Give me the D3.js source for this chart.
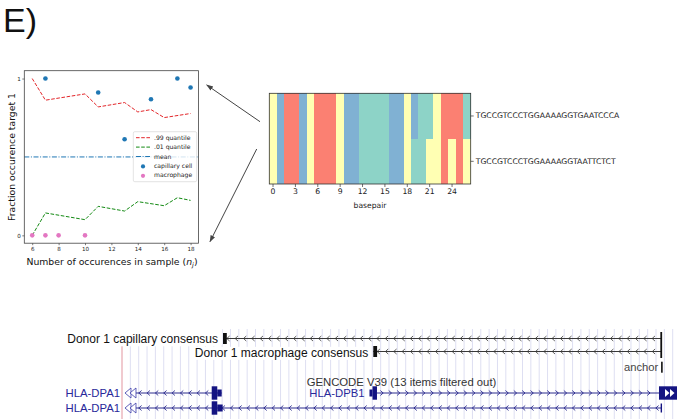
<!DOCTYPE html>
<html><head><meta charset="utf-8">
<script src="https://cdn.jsdelivr.net/npm/d3@7"></script>
<style>body{margin:0;background:#fff}svg{display:block}</style>
</head><body>
<svg id="c" width="680" height="419"></svg>
<script>
// ---------- DATA: scatter panel ----------
const scatterXTicks = [6, 8, 10, 12, 14, 16, 18];
const scatterYTicks = [0, 1];
const q99X = [6, 7, 10, 11, 13, 14, 15, 16, 18];
const q99Y = [1.0, 0.862, 0.902, 0.819, 0.847, 0.787, 0.802, 0.751, 0.777];
const q01X = [6, 7, 10, 11, 13, 14, 16, 17, 18];
const q01Y = [0.0, 0.143, 0.100, 0.185, 0.155, 0.215, 0.189, 0.240, 0.223];
const meanValue = 0.5;
const capillaryX = [7, 11, 13, 15, 17, 18];
const capillaryY = [1.0, 0.911, 0.613, 0.868, 1.0, 0.943];
const macrophageX = [6, 7, 8, 10];
const macrophageY = [0, 0, 0, 0];
const legendLabels = [".99 quantile", ".01 quantile", "mean", "capillary cell", "macrophage"];

// ---------- DATA: heatmap panel ----------
const sequences = ["TGCCGTCCCTGGAAAAGGTGAATCCCA", "TGCCGTCCCTGGAAAAGGTAATTCTCT"];
const baseLetters = ["A", "T", "C", "G"];
const heatXTicks = [0, 3, 6, 9, 12, 15, 18, 21, 24];

// ---------- DATA: genome browser panel (relative window units 0..1000) ----------
const consensusNames = ["Donor 1 capillary consensus", "Donor 1 macrophage consensus"];
const consensusStart = [183.4, 456.3];
const consensusEnd = [979, 979];
const anchorPos = 980;
const geneNames = ["HLA-DPA1", "HLA-DPB1", "HLA-DPA1"];
const geneStart = [5.4, 449.4, 5.4];
const geneEnd = [181.0, 1007.8, 979];
const geneStrand = ["-", "+", "-"];
const geneRow = [0, 0, 1];
const exonGene = [0, 0, 2, 2, 1, 1, 1];
const exonStart = [162.9, 173.0, 162.9, 173.0, 449.4, 454.9, 975.1];
const exonEnd = [173.0, 181.0, 173.0, 182.8, 454.9, 463.0, 1007.8];
const exonThick = [true, false, true, false, false, true, true];
const gencodeLabel = "GENCODE V39 (13 items filtered out)";

// ---------- DRAW ----------
const svg = d3.select("#c");
svg.append("rect").attr("width", 680).attr("height", 419).attr("fill", "#fff");

svg.append("text").attr("x", 3).attr("y", 31.5)
  .attr("font-family", "Liberation Sans, Arial, sans-serif").attr("font-size", 34)
  .attr("fill", "#111").text("E)");

// ===== Scatter panel =====
const SF = "DejaVu Sans, sans-serif";
const ax = {l: 24.3, r: 198.5, t: 70.7, b: 243.2};
const xs = d3.scaleLinear().domain([5.4, 18.6]).range([ax.l, ax.r]);
const ys = d3.scaleLinear().domain([-0.05, 1.05]).range([ax.b, ax.t]);
const gS = svg.append("g");

const line = d3.line().x(d => xs(d[0])).y(d => ys(d[1]));
gS.append("path").datum(q99X.map((x, i) => [x, q99Y[i]])).attr("d", line)
  .attr("fill", "none").attr("stroke", "#e3262a").attr("stroke-width", 1).attr("stroke-dasharray", "3.6,1.6");
gS.append("path").datum(q01X.map((x, i) => [x, q01Y[i]])).attr("d", line)
  .attr("fill", "none").attr("stroke", "#138a13").attr("stroke-width", 1).attr("stroke-dasharray", "3.6,1.6");
gS.append("line").attr("x1", ax.l).attr("x2", ax.r).attr("y1", ys(meanValue)).attr("y2", ys(meanValue))
  .attr("stroke", "#1f77b4").attr("stroke-width", 1).attr("stroke-dasharray", "5,1.6,1,1.6");

gS.selectAll("circle.cap").data(capillaryX.map((x, i) => [x, capillaryY[i]])).join("circle")
  .attr("class", "cap").attr("cx", d => xs(d[0])).attr("cy", d => ys(d[1])).attr("r", 2.3).attr("fill", "#1f77b4");
gS.selectAll("circle.mac").data(macrophageX.map((x, i) => [x, macrophageY[i]])).join("circle")
  .attr("class", "mac").attr("cx", d => xs(d[0])).attr("cy", d => ys(d[1])).attr("r", 2.3).attr("fill", "#e377c2");

gS.append("rect").attr("x", ax.l).attr("y", ax.t).attr("width", ax.r - ax.l).attr("height", ax.b - ax.t)
  .attr("fill", "none").attr("stroke", "#444").attr("stroke-width", 0.8);

const xAx = gS.append("g").attr("transform", `translate(0,${ax.b})`)
  .call(d3.axisBottom(xs).tickValues(scatterXTicks).tickSize(2).tickPadding(1.5));
const yAx = gS.append("g").attr("transform", `translate(${ax.l},0)`)
  .call(d3.axisLeft(ys).tickValues(scatterYTicks).tickFormat(d3.format("d")).tickSize(2).tickPadding(1.5));
[xAx, yAx].forEach(a => {
  a.select(".domain").remove();
  a.selectAll("line").attr("stroke", "#444").attr("stroke-width", 0.7);
  a.selectAll("text").attr("font-family", SF).attr("font-size", 5.6).attr("fill", "#222");
});

const xl = gS.append("text").attr("x", 112).attr("y", 264.5).attr("text-anchor", "middle")
  .attr("font-family", SF).attr("font-size", 9.3).attr("fill", "#111");
xl.append("tspan").text("Number of occurences in sample (");
xl.append("tspan").attr("font-style", "italic").text("n");
xl.append("tspan").attr("font-style", "italic").attr("font-size", 6.5).attr("dy", 2).text("j");
xl.append("tspan").attr("dy", -2).text(")");

gS.append("text").attr("transform", "translate(14.5,157) rotate(-90)").attr("text-anchor", "middle")
  .attr("font-family", SF).attr("font-size", 9.3).attr("fill", "#111").text("Fraction occurence target 1");

// legend
const lg = gS.append("g");
lg.append("rect").attr("x", 133.3).attr("y", 131.7).attr("width", 63.4).attr("height", 50).attr("rx", 1.5)
  .attr("fill", "#fff").attr("fill-opacity", 0.8).attr("stroke", "#d0d0d0").attr("stroke-width", 0.6);
const lgY = d3.scaleLinear().domain([0, 4]).range([137.7, 175.3]);
const lgStyles = [
  {type: "line", color: "#e3262a", dash: "3.6,1.6"},
  {type: "line", color: "#138a13", dash: "3.6,1.6"},
  {type: "line", color: "#1f77b4", dash: "5,1.6,1,1.6"},
  {type: "dot", color: "#1f77b4"},
  {type: "dot", color: "#e377c2"}];
legendLabels.forEach((lab, i) => {
  const s = lgStyles[i], y = lgY(i);
  if (s.type === "line") {
    lg.append("line").attr("x1", 136).attr("x2", 150).attr("y1", y).attr("y2", y)
      .attr("stroke", s.color).attr("stroke-width", 1).attr("stroke-dasharray", s.dash);
  } else {
    lg.append("circle").attr("cx", 143).attr("cy", y + 0.5).attr("r", 2.1).attr("fill", s.color);
  }
  lg.append("text").attr("x", 154).attr("y", y + 2.1).attr("font-family", SF).attr("font-size", 6.1)
    .attr("fill", "#222").text(lab);
});

// ===== Heatmap panel =====
const hx = d3.scaleBand().domain(d3.range(sequences[0].length)).range([269.3, 470.7]);
const hy = d3.scaleBand().domain(d3.range(sequences.length)).range([93.3, 184]);
const baseColor = d3.scaleOrdinal().domain(baseLetters).range(["#8dd3c7", "#ffffb3", "#fb8072", "#80b1d3"]);
const gH = svg.append("g");
sequences.forEach((seq, r) => {
  gH.selectAll(null).data(seq.split("")).join("rect")
    .attr("x", (d, i) => hx(i)).attr("y", hy(r))
    .attr("width", hx.bandwidth() + 0.4).attr("height", hy.bandwidth() + 0.4)
    .attr("fill", d => baseColor(d)).attr("shape-rendering", "crispEdges");
});
gH.append("rect").attr("x", 269.3).attr("y", 93.3).attr("width", 470.7 - 269.3).attr("height", 184 - 93.3)
  .attr("fill", "none").attr("stroke", "#333").attr("stroke-width", 0.8);
const hxAx = gH.append("g").attr("transform", "translate(0,184)")
  .call(d3.axisBottom(hx).tickValues(heatXTicks).tickSize(3).tickPadding(1.5));
const hyAx = gH.append("g").attr("transform", "translate(470.7,0)")
  .call(d3.axisRight(hy).tickFormat(i => sequences[i]).tickSize(3).tickPadding(2));
[hxAx, hyAx].forEach(a => {
  a.select(".domain").remove();
  a.selectAll("line").attr("stroke", "#333").attr("stroke-width", 0.7);
  a.selectAll("text").attr("font-family", SF).attr("font-size", 7.7).attr("fill", "#222");
});
gH.append("text").attr("x", 370).attr("y", 208).attr("text-anchor", "middle")
  .attr("font-family", SF).attr("font-size", 7.6).attr("fill", "#222").text("basepair");

// arrows
const defs = svg.append("defs");
defs.append("marker").attr("id", "ah").attr("viewBox", "0 0 10 10").attr("refX", 9).attr("refY", 5)
  .attr("markerWidth", 7).attr("markerHeight", 7).attr("orient", "auto-start-reverse")
  .append("path").attr("d", "M0,1.5 L10,5 L0,8.5 z").attr("fill", "#444");
[[260, 121.7, 206.7, 85], [256.7, 149, 210, 241.7]].forEach(a => {
  svg.append("line").attr("x1", a[0]).attr("y1", a[1]).attr("x2", a[2]).attr("y2", a[3])
    .attr("stroke", "#444").attr("stroke-width", 1).attr("marker-end", "url(#ah)");
});

// ===== Genome browser panel =====
const gx = d3.scaleLinear().domain([0, 1000]).range([122, 672.7]);
const gB = svg.append("g");
const BF = "Liberation Sans, Arial, sans-serif";
const navy = "#141482";
// guide lines
gB.selectAll("line.grid").data(d3.range(0, 1000.01, 1000 / 66)).join("line").attr("class", "grid")
  .attr("x1", d => gx(d)).attr("x2", d => gx(d)).attr("y1", 329).attr("y2", 419)
  .attr("stroke", "#dedff2").attr("stroke-width", 1);
gB.append("rect").attr("x", 0).attr("y", 325).attr("width", gx(consensusStart[0]) - 1).attr("height", 20).attr("fill", "#fff");
gB.append("line").attr("x1", gx(0)).attr("x2", gx(0)).attr("y1", 345).attr("y2", 419)
  .attr("stroke", "#f2a5a5").attr("stroke-width", 1);

function chevrons(g, x0, x1, y, dir, color) {
  const xsv = d3.range(x0 + 5, x1 - 3, 8.34);
  g.selectAll(null).data(xsv).join("path")
    .attr("d", x => dir === "-" ? `M${x + 1.6},${y - 2.5} L${x - 1.2},${y} L${x + 1.6},${y + 2.5}`
                                : `M${x - 1.6},${y - 2.5} L${x + 1.2},${y} L${x - 1.6},${y + 2.5}`)
    .attr("fill", "none").attr("stroke", color).attr("stroke-width", 0.8);
}

// consensus tracks
const consY = [338.5, 351.5];
const consLabY = [343.3, 356.8];
consensusNames.forEach((nm, i) => {
  const y = consY[i], x0 = gx(consensusStart[i]), x1 = gx(consensusEnd[i]);
  const lab = gB.append("text").attr("x", x0 - 5).attr("y", consLabY[i]).attr("text-anchor", "end")
    .attr("font-family", BF).attr("font-size", 12).attr("fill", "#111").text(nm);
  const bb = lab.node().getBBox();
  gB.insert("rect", () => lab.node()).attr("x", bb.x - 1).attr("y", bb.y + 1)
    .attr("width", bb.width + 2).attr("height", bb.height - 1).attr("fill", "#fff");
  gB.append("line").attr("x1", x0).attr("x2", x1).attr("y1", y).attr("y2", y).attr("stroke", "#222").attr("stroke-width", 0.9);
  chevrons(gB, x0, x1, y, "-", "#333");
  gB.append("rect").attr("x", x0).attr("y", y - 5.5).attr("width", 3.8).attr("height", 11).attr("fill", "#111");
  gB.append("rect").attr("x", x1 - 0.8).attr("y", y - 6.5).attr("width", 1.8).attr("height", 13).attr("fill", "#111");
});
gB.append("text").attr("x", gx(anchorPos) - 3.5).attr("y", 370.7).attr("text-anchor", "end")
  .attr("font-family", BF).attr("font-size", 11.2).attr("fill", "#444").text("anchor");
gB.append("rect").attr("x", gx(anchorPos) - 0.6).attr("y", 361.7).attr("width", 1.6).attr("height", 11).attr("fill", "#111");

gB.append("text").attr("x", 306.7).attr("y", 386).attr("font-family", BF).attr("font-size", 11.3)
  .attr("fill", "#333").text(gencodeLabel);

// genes
const rowY = [393, 408];
const rowLabY = [397.2, 411.8];
geneNames.forEach((nm, i) => {
  const y = rowY[geneRow[i]], x0 = gx(geneStart[i]), x1 = gx(geneEnd[i]);
  const lineEnd = geneStrand[i] === "+" ? gx(exonStart[6]) : x1;
  const lineStart = geneStrand[i] === "+" ? gx(exonEnd[5]) : x0 + 9;
  gB.append("text").attr("x", (geneStrand[i] === "+" ? gx(exonStart[4]) : x0) - 5).attr("y", rowLabY[geneRow[i]])
    .attr("text-anchor", "end").attr("font-family", BF).attr("font-size", 11.3).attr("fill", "#28289a").text(nm);
  gB.append("line").attr("x1", lineStart).attr("x2", lineEnd).attr("y1", y).attr("y2", y)
    .attr("stroke", navy).attr("stroke-width", 0.9);
  if (geneStrand[i] === "-") {
    const exEnd = i === 0 ? gx(exonStart[0]) : x1;
    chevrons(gB, x0 + 10, exEnd, y, "-", navy);
    [0, 5].forEach(off => {
      gB.append("path").attr("d", `M${x0 + off},${y} L${x0 + off + 6},${y - 5} L${x0 + off + 6},${y + 5} Z`)
        .attr("fill", "#fff").attr("stroke", "#3a3aa8").attr("stroke-width", 0.8);
    });
    if (i === 2) gB.append("rect").attr("x", x1 - 0.5).attr("y", y - 4.5).attr("width", 1.4).attr("height", 9).attr("fill", navy);
  } else {
    chevrons(gB, lineStart, lineEnd, y, "+", navy);
  }
});
exonGene.forEach((gi, k) => {
  const y = rowY[geneRow[gi]], h = exonThick[k] ? 13.4 : 7;
  gB.append("rect").attr("x", gx(exonStart[k])).attr("y", y - h / 2)
    .attr("width", gx(exonEnd[k]) - gx(exonStart[k])).attr("height", h).attr("fill", navy);
});
const eb0 = gx(exonStart[6]);
[6, 11].forEach(off => {
  gB.append("path").attr("d", `M${eb0 + off},${rowY[0] - 4} L${eb0 + off + 4.5},${rowY[0]} L${eb0 + off},${rowY[0] + 4} Z`)
    .attr("fill", "#fff");
});
</script>
</body></html>
